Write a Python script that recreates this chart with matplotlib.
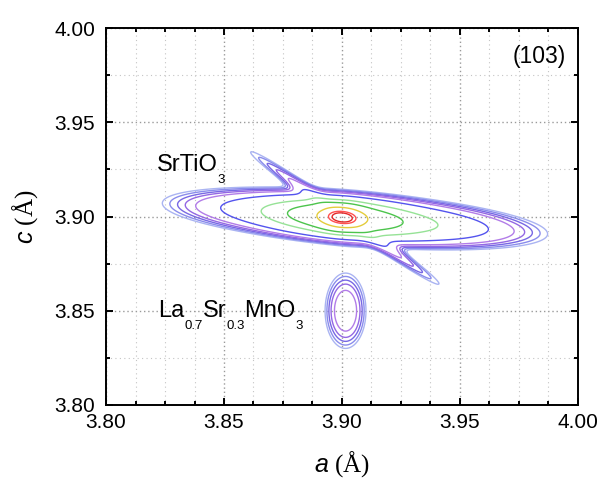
import numpy as np
import matplotlib
matplotlib.use('Agg')
import matplotlib.pyplot as plt
from matplotlib.ticker import MultipleLocator, FormatStrFormatter

plt.rcParams['font.family'] = ['Liberation Sans', 'DejaVu Sans']
plt.rcParams['mathtext.fontset'] = 'custom'
plt.rcParams['mathtext.it'] = 'Liberation Sans:italic'
plt.rcParams['mathtext.rm'] = 'Liberation Serif'

# Reciprocal space map (103): peak components in (a, c) space.
# SrTiO3 core, SrTiO3 halo, SrTiO3 streak, SrTiO3 cross streak, La0.7Sr0.3MnO3 film
peak_a = [3.900, 3.900, 3.9055, 3.9012, 3.9015]
peak_c = [3.8995, 3.8995, 3.8989, 3.8992, 3.850]
peak_amp = [0.32, 0.115, 0.066, 0.013, 0.012]
peak_slope = [-0.103, -0.103, -0.103, -0.88, 0.0]
peak_w_along = [0.0056, 0.0150, 0.0330, 0.031, 0.0052]
peak_w_across = [0.0034, 0.0046, 0.0058, 0.0021, 0.012]

levels = [0.003, 0.0038, 0.0048, 0.006, 0.008, 0.015, 0.04, 0.08, 0.2, 0.36, 0.42]
level_colors = ['#aab4f2', '#8a8cec', '#7868e4', '#9468e4', '#b27ce8', '#5454ee',
                '#96e296', '#4cc44c', '#e4cc3c', '#ff5050', '#e42828']

a = np.linspace(3.80, 4.00, 601)
c = np.linspace(3.80, 4.00, 601)
A, C = np.meshgrid(a, c)
intensity = np.zeros_like(A)
for a0, c0, amp, s, wu, wv in zip(peak_a, peak_c, peak_amp, peak_slope,
                                  peak_w_along, peak_w_across):
    n = np.hypot(1.0, s)
    dx, dy = 1.0 / n, s / n
    u = (A - a0) * dx + (C - c0) * dy
    v = -(A - a0) * dy + (C - c0) * dx
    intensity += amp * np.exp(-0.5 * (u / wu) ** 2 - 0.5 * (v / wv) ** 2)

fig = plt.figure(figsize=(6.03, 4.88), dpi=100)
ax = fig.add_axes([0.1758, 0.1701, 0.7827, 0.7725])

ax.contour(A, C, intensity, levels=levels, colors=level_colors, linewidths=1.0)

ax.set_xlim(3.80, 4.00)
ax.set_ylim(3.80, 4.00)
ax.xaxis.set_major_locator(MultipleLocator(0.05))
ax.xaxis.set_minor_locator(MultipleLocator(0.0125))
ax.yaxis.set_major_locator(MultipleLocator(0.05))
ax.yaxis.set_minor_locator(MultipleLocator(0.025))
ax.xaxis.set_major_formatter(FormatStrFormatter('%.2f'))
ax.yaxis.set_major_formatter(FormatStrFormatter('%.2f'))

ax.grid(which='major', color='#9a9a9a', linestyle=(0, (1, 2)), linewidth=1.0)
ax.grid(which='minor', color='#c4c4c4', linestyle=(0, (1, 3)), linewidth=0.8)
ax.set_axisbelow(True)

ax.tick_params(which='both', direction='in', top=True, right=True, width=1.4)
ax.tick_params(which='major', length=5, labelsize=15)
ax.tick_params(axis='x', which='major', pad=6)
ax.tick_params(axis='y', which='major', pad=8)
ax.tick_params(which='minor', length=3)
for sp in ax.spines.values():
    sp.set_linewidth(1.4)

ax.set_xlabel(r'$\mathit{a}$ (Å)', fontsize=18, family='Liberation Serif', labelpad=12)
ax.set_ylabel(r'$\mathit{c}$ (Å)', fontsize=18, family='Liberation Serif', labelpad=10)

ax.text(0.975, 0.925, '(103)', transform=ax.transAxes, ha='right', va='center', fontsize=16.5)


def formula(ax, x, y, parts, size=17, subsize=9.5, drop=8.6):
    # draw a chemical formula piece by piece with low-set subscripts
    renderer = ax.figure.canvas.get_renderer()
    dpi = ax.figure.dpi
    offset = 0.0
    for txt, sub in parts:
        t = ax.annotate(txt, xy=(x, y), xycoords='data',
                        xytext=(offset, -drop if sub else 0), textcoords='offset points',
                        fontsize=subsize if sub else size, ha='left', va='baseline')
        offset += t.get_window_extent(renderer).width * 72.0 / dpi


formula(ax, 3.8216, 3.9241, [('SrTiO', False), ('3', True)])
formula(ax, 3.8220, 3.8467, [('La', False), ('0.7', True), ('Sr', False),
                             ('0.3', True), ('MnO', False), ('3', True)])

fig.savefig('out.png', dpi=100)
